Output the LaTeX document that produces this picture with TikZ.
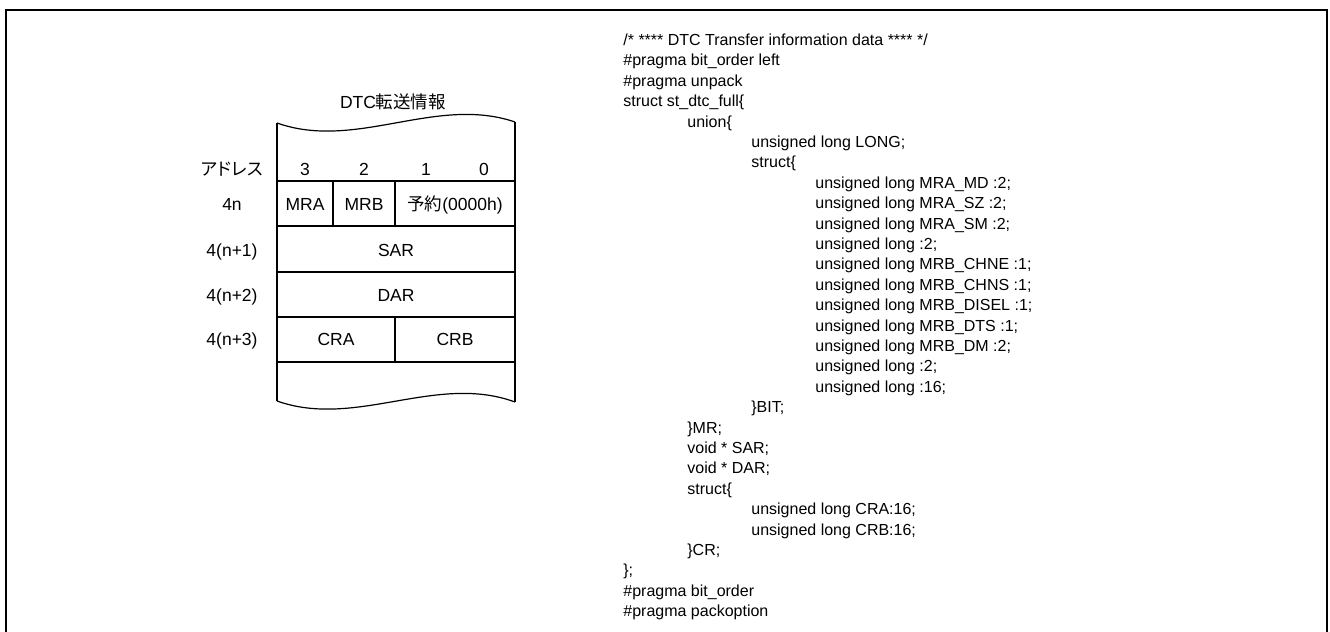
\documentclass[tikz,border=0pt]{standalone}
\usepackage{fontspec}
\setmainfont{Liberation Sans}
\newfontfamily\jp{Noto Sans CJK JP}
\newfontfamily\jpp[RawFeature=+palt]{Noto Sans CJK JP}
\newcommand\cl[3]{\node[codeline] (c#1) at ({623+64*#2},{45.5+20.4*#1}) {#3};}
\begin{document}
\begin{tikzpicture}[x=0.5pt,y=-0.5pt,
  frame/.style={line width=1pt},
  grid/.style={line width=0.6pt},
  lab/.style={anchor=base,inner sep=0pt,font=\fontsize{8.75}{10}\selectfont},
  codeline/.style={anchor=base west,inner sep=0pt,font=\fontsize{8}{10}\selectfont}]
\useasboundingbox (0,0) rectangle (1330,632);
% outer frame (bottom edge lies outside the picture)
\draw[frame] (6,632) -- (6,10) -- (1327,10) -- (1327,632);

% ---- memory map ----
\node[lab] (title) at (393,108) {DTC{\jp 転送情報}};
\draw[grid] (277,123) .. controls (356,151) and (436,95) .. (515,122);
\draw[grid] (277,401) .. controls (356,429) and (436,373) .. (515,402);
\draw[grid] (277,123) -- (277,401);
\draw[grid] (515,122) -- (515,402);
\foreach \yy in {181,226,272,317,362} \draw[grid] (277,\yy) -- (515,\yy);
\draw[grid] (333,181) -- (333,226);
\draw[grid] (395,181) -- (395,226);
\draw[grid] (395,317) -- (395,362);

\node[lab] (b3) at (305,175) {3};
\node[lab] (b2) at (364,175) {2};
\node[lab] (b1) at (426,175) {1};
\node[lab] (b0) at (484,175) {0};

\node[lab] (addr) at (232,175) {\jpp アドレス};
\node[lab] (a0) at (232,210) {4n};
\node[lab] (a1) at (232,256) {4(n+1)};
\node[lab] (a2) at (232,301) {4(n+2)};
\node[lab] (a3) at (232,345) {4(n+3)};

\node[lab] (mra) at (305,210) {MRA};
\node[lab] (mrb) at (364,210) {MRB};
\node[lab] (rsv) at (455,210) {{\jp 予約}(0000h)};
\node[lab] (sar) at (396,256) {SAR};
\node[lab] (dar) at (396,301) {DAR};
\node[lab] (cra) at (336,345) {CRA};
\node[lab] (crb) at (455,345) {CRB};

% ---- code listing ----
\cl{0}{0}{/* **** DTC Transfer information data **** */}
\cl{1}{0}{\#pragma bit\_order left}
\cl{2}{0}{\#pragma unpack}
\cl{3}{0}{struct st\_dtc\_full\{}
\cl{4}{1}{union\{}
\cl{5}{2}{unsigned long LONG;}
\cl{6}{2}{struct\{}
\cl{7}{3}{unsigned long MRA\_MD :2;}
\cl{8}{3}{unsigned long MRA\_SZ :2;}
\cl{9}{3}{unsigned long MRA\_SM :2;}
\cl{10}{3}{unsigned long :2;}
\cl{11}{3}{unsigned long MRB\_CHNE :1;}
\cl{12}{3}{unsigned long MRB\_CHNS :1;}
\cl{13}{3}{unsigned long MRB\_DISEL :1;}
\cl{14}{3}{unsigned long MRB\_DTS :1;}
\cl{15}{3}{unsigned long MRB\_DM :2;}
\cl{16}{3}{unsigned long :2;}
\cl{17}{3}{unsigned long :16;}
\cl{18}{2}{\}BIT;}
\cl{19}{1}{\}MR;}
\cl{20}{1}{void * SAR;}
\cl{21}{1}{void * DAR;}
\cl{22}{1}{struct\{}
\cl{23}{2}{unsigned long CRA:16;}
\cl{24}{2}{unsigned long CRB:16;}
\cl{25}{1}{\}CR;}
\cl{26}{0}{\};}
\cl{27}{0}{\#pragma bit\_order}
\cl{28}{0}{\#pragma packoption}
\end{tikzpicture}
\end{document}
